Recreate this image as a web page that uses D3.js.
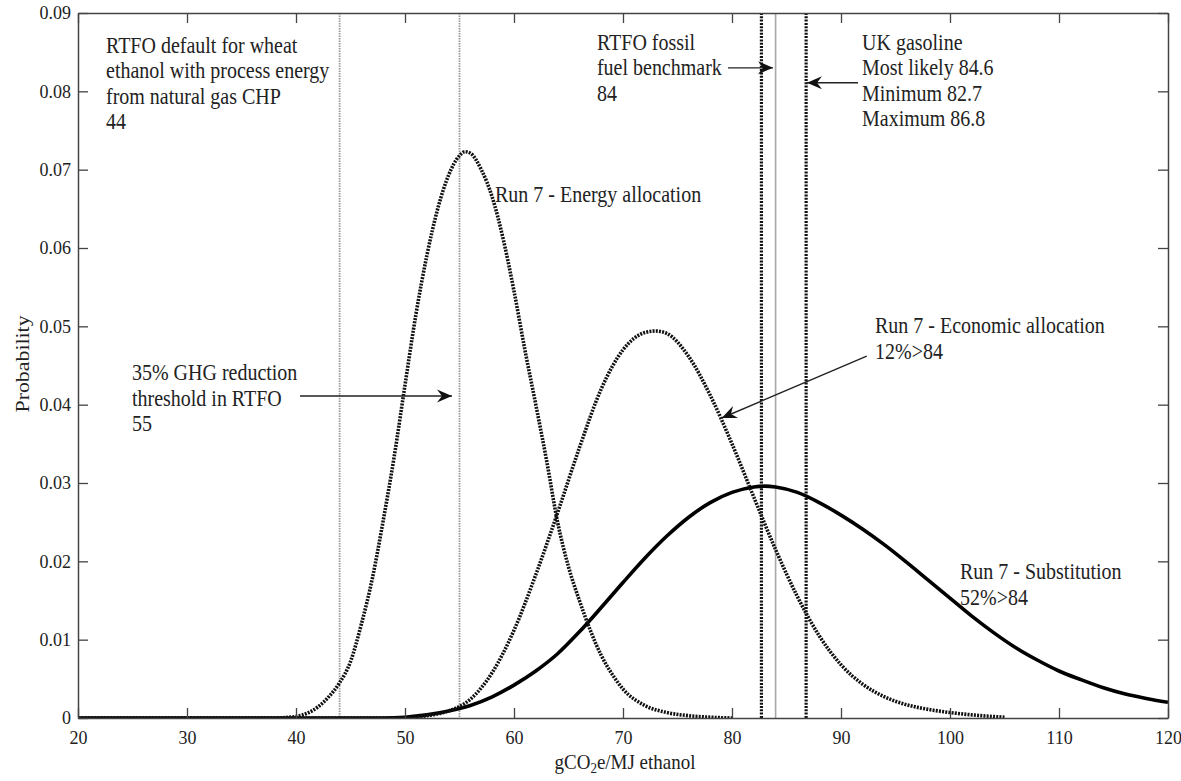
<!DOCTYPE html>
<html>
<head>
<meta charset="utf-8">
<script src="https://cdn.jsdelivr.net/npm/d3@7"></script>
<style>
  body { margin: 0; background: #fff; }
  text { font-family: "Liberation Serif", "Times New Roman", serif; fill: #222; }
</style>
</head>
<body>
<div id="chart"></div>
<script>
// x values (gCO2e/MJ) and probabilities
var energyX = [20, 38, 40, 41, 42, 43, 44, 45, 46, 47, 48, 49, 50, 51, 52, 53, 54, 55, 55.5, 56, 57, 58, 59, 60, 61, 62, 63, 64, 65, 66, 67, 68, 69, 70, 72, 74, 76, 78, 80];
var energyY = [0, 0, 0.0002, 0.0006, 0.0014, 0.0027, 0.0045, 0.0072, 0.0120, 0.0178, 0.0252, 0.0333, 0.0425, 0.0515, 0.0590, 0.0650, 0.0693, 0.0718, 0.0723, 0.0721, 0.0700, 0.0665, 0.0612, 0.0545, 0.0470, 0.0400, 0.0328, 0.0250, 0.0193, 0.0150, 0.0112, 0.0080, 0.0056, 0.0037, 0.0016, 0.0007, 0.0003, 0.0001, 0];

var economicX = [20, 50, 52, 54, 56, 58, 60, 62, 64, 66, 68, 70, 72, 73, 74, 76, 78, 80, 82, 84, 86, 88, 90, 92, 94, 96, 98, 100, 102, 105];
var economicY = [0, 0, 0.0003, 0.0009, 0.0024, 0.0058, 0.0112, 0.0183, 0.0262, 0.0345, 0.0420, 0.0470, 0.0492, 0.0494, 0.0491, 0.0462, 0.0412, 0.0350, 0.0282, 0.0215, 0.0155, 0.0105, 0.0068, 0.0043, 0.0027, 0.0017, 0.0011, 0.0007, 0.0004, 0.0001];

var substX = [20, 44, 48, 50, 52, 54, 56, 58, 60, 62, 64, 66, 68, 70, 72, 74, 76, 78, 80, 82, 83, 84, 86, 88, 90, 92, 94, 96, 98, 100, 102, 104, 106, 108, 110, 112, 114, 116, 118, 120];
var substY = [0, 0, 0.0000, 0.0001, 0.0004, 0.0009, 0.0016, 0.0027, 0.0042, 0.0060, 0.0082, 0.0110, 0.0141, 0.0173, 0.0204, 0.0232, 0.0256, 0.0275, 0.0288, 0.0295, 0.0296, 0.0295, 0.0288, 0.0275, 0.0259, 0.0241, 0.0221, 0.0199, 0.0176, 0.0153, 0.0130, 0.0109, 0.0090, 0.0074, 0.0060, 0.0049, 0.0039, 0.0031, 0.0025, 0.0020];

// reference values (vertical lines)
var rtfoDefault = 44;
var ghgThreshold = 55;
var fossilBenchmark = 84;
var gasolineMin = 82.7;
var gasolineMax = 86.8;

var xTicks = [20, 30, 40, 50, 60, 70, 80, 90, 100, 110, 120];
var yTicks = [0, 0.01, 0.02, 0.03, 0.04, 0.05, 0.06, 0.07, 0.08, 0.09];
var yTickLabels = ["0", "0.01", "0.02", "0.03", "0.04", "0.05", "0.06", "0.07", "0.08", "0.09"];

var svgWidth = 1181;
var svgHeight = 781;
var margin = { top: 13, right: 13, bottom: 63, left: 78 };
var width = svgWidth - margin.left - margin.right;
var height = svgHeight - margin.top - margin.bottom;

var svg = d3
  .select("#chart")
  .append("svg")
  .attr("width", svgWidth)
  .attr("height", svgHeight);

svg.append("defs")
  .append("marker")
  .attr("id", "arrow")
  .attr("viewBox", "-16 -8 18 16")
  .attr("refX", 0)
  .attr("refY", 0)
  .attr("markerUnits", "userSpaceOnUse")
  .attr("markerWidth", 18)
  .attr("markerHeight", 16)
  .attr("orient", "auto")
  .append("path")
  .attr("d", "M0,0 L-15,-6.5 L-10,0 L-15,6.5 Z")
  .attr("fill", "#111");

svg.select("defs")
  .append("clipPath")
  .attr("id", "plotclip")
  .append("rect")
  .attr("width", width)
  .attr("height", height);

var chartGroup = svg
  .append("g")
  .attr("transform", `translate(${margin.left}, ${margin.top})`);

var x = d3.scaleLinear().domain([20, 120]).range([0, width]);
var y = d3.scaleLinear().domain([0, 0.09]).range([height, 0]);

// reference lines
var vlines = chartGroup.append("g").attr("clip-path", "url(#plotclip)");
function vline(v, color, w, dash) {
  vlines.append("line")
    .attr("x1", x(v)).attr("x2", x(v))
    .attr("y1", 0).attr("y2", height)
    .attr("stroke", color)
    .attr("stroke-width", w)
    .attr("stroke-dasharray", dash);
}
vline(rtfoDefault, "#999", 1.8, "1.5,1");
vline(ghgThreshold, "#999", 1.8, "1.5,1");
vline(fossilBenchmark, "#a8a8a8", 1.6, null);
vline(gasolineMin, "#111", 3.2, "2,1.3");
vline(gasolineMax, "#111", 3.2, "2,1.3");

// curves
var line = d3.line()
  .x((d) => x(d[0]))
  .y((d) => y(d[1]))
  .curve(d3.curveMonotoneX);

var curves = chartGroup.append("g").attr("clip-path", "url(#plotclip)");
curves.append("path")
  .datum(substX.map((v, i) => [v, substY[i]]))
  .attr("d", line)
  .attr("fill", "none")
  .attr("stroke", "#000")
  .attr("stroke-width", 3.6);

curves.append("path")
  .datum(economicX.map((v, i) => [v, economicY[i]]))
  .attr("d", line)
  .attr("fill", "none")
  .attr("stroke", "#111")
  .attr("stroke-width", 3.6)
  .attr("stroke-dasharray", "2,1.2");

curves.append("path")
  .datum(energyX.map((v, i) => [v, energyY[i]]))
  .attr("d", line)
  .attr("fill", "none")
  .attr("stroke", "#111")
  .attr("stroke-width", 3.6)
  .attr("stroke-dasharray", "2,1.2");

// axes (ticks pointing inward on all four sides)
var axisColor = "#444";
function styleAxis(g) {
  g.selectAll("path").attr("stroke", axisColor).attr("stroke-width", 1.5);
  g.selectAll("line").attr("stroke", axisColor).attr("stroke-width", 1.3);
  g.selectAll("text")
    .style("font-family", '"Liberation Serif", "Times New Roman", serif')
    .style("font-size", "18px")
    .attr("fill", "#222");
}

chartGroup.append("g")
  .attr("transform", `translate(0, ${height})`)
  .call(d3.axisBottom(x).tickValues(xTicks).tickSizeInner(-10).tickSizeOuter(0).tickPadding(13))
  .call(styleAxis);

chartGroup.append("g")
  .call(d3.axisTop(x).tickValues(xTicks).tickSizeInner(-10).tickSizeOuter(0).tickFormat(""))
  .call(styleAxis);

chartGroup.append("g")
  .call(d3.axisLeft(y).tickValues(yTicks).tickSizeInner(-10).tickSizeOuter(0)
    .tickPadding(7).tickFormat((d, i) => yTickLabels[i]))
  .call(styleAxis);

chartGroup.append("g")
  .attr("transform", `translate(${width}, 0)`)
  .call(d3.axisRight(y).tickValues(yTicks).tickSizeInner(-10).tickSizeOuter(0).tickFormat(""))
  .call(styleAxis);

// axis titles
var xTitle = chartGroup.append("text")
  .attr("transform", `translate(${width / 2 + 2}, ${height + 51}) scale(1, 1.12)`)
  .style("text-anchor", "middle")
  .style("font-size", "19px");
xTitle.append("tspan").text("gCO");
xTitle.append("tspan").attr("dy", 4).style("font-size", "13px").text("2");
xTitle.append("tspan").attr("dy", -4).text("e/MJ ethanol");

chartGroup.append("text")
  .attr("transform", `translate(${-margin.left + 29}, ${y(0.0452)}) scale(1, 1.15) rotate(-90)`)
  .style("text-anchor", "middle")
  .style("font-size", "19px")
  .text("Probability");

// annotations
var lineGap = 25.4;
function label(lines, xv, yv) {
  var g = chartGroup.append("g");
  lines.forEach(function (t, i) {
    g.append("text")
      .attr("transform", `translate(${x(xv)}, ${y(yv) + i * lineGap}) scale(1, 1.12)`)
      .style("font-size", "20px")
      .text(t);
  });
}
function arrow(x1, y1, x2, y2) {
  chartGroup.append("line")
    .attr("x1", x(x1)).attr("y1", y(y1))
    .attr("x2", x(x2)).attr("y2", y(y2))
    .attr("stroke", "#222")
    .attr("stroke-width", 1.4)
    .attr("marker-end", "url(#arrow)");
}

label(["RTFO default for wheat", "ethanol with process energy", "from natural gas CHP", "44"], 22.57, 0.0849);
label(["RTFO fossil", "fuel benchmark", "84"], 67.61, 0.0853);
label(["UK gasoline", "Most likely 84.6", "Minimum 82.7", "Maximum 86.8"], 91.93, 0.0853);
label(["Run 7 - Energy allocation"], 58.26, 0.0659);
label(["35% GHG reduction", "threshold in RTFO", "55"], 24.95, 0.0431);
label(["Run 7 - Economic allocation", "12%>84"], 93.12, 0.0491);
label(["Run 7 - Substitution", "52%>84"], 100.92, 0.0177);

arrow(40.37, 0.0411, 54.31, 0.0411);
arrow(79.63, 0.0830, 83.76, 0.0830);
arrow(91.56, 0.0811, 86.88, 0.0811);
arrow(92.36, 0.0462, 79.06, 0.0383);
</script>
</body>
</html>
